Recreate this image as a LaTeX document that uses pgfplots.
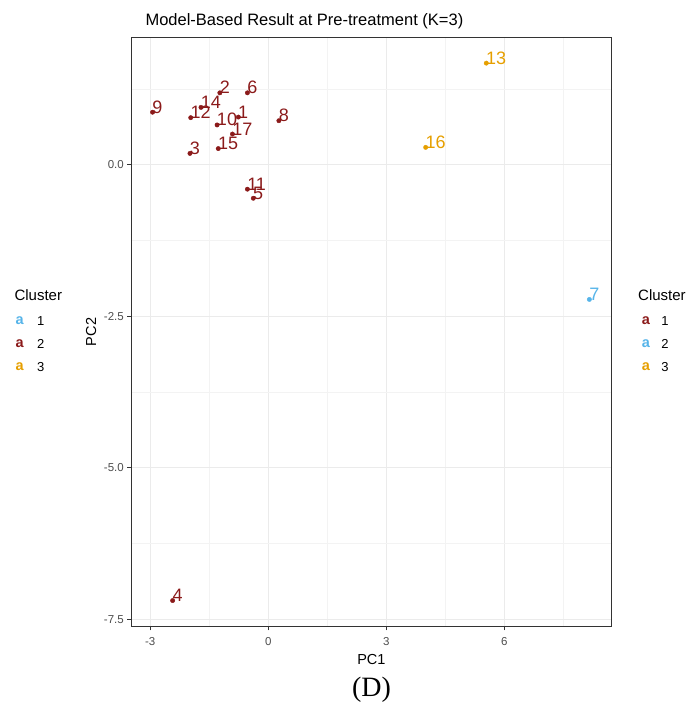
\documentclass[border=0pt]{standalone}
\usepackage{pgfplots}
\pgfplotsset{compat=1.18}
\usepackage{fontspec}
\setmainfont{Liberation Sans}
\newfontfamily\seriffont{Liberation Serif}
\definecolor{cRed}{HTML}{8B1A1A}
\definecolor{cBlue}{HTML}{56B4E9}
\definecolor{cOrange}{HTML}{E69F00}
\definecolor{grey20}{HTML}{333333}
\definecolor{grey30}{HTML}{4D4D4D}
\definecolor{grey92}{HTML}{EBEBEB}
\definecolor{grey95}{HTML}{F3F3F3}
\newcommand{\fs}[1]{\fontsize{#1bp}{#1bp}\selectfont}

\pgfplotstableread{
x y lab
-0.76 0.79 1
-1.23 1.19 2
-1.99 0.19 3
-2.43 -7.19 4
-0.38 -0.55 5
-0.53 1.19 6
0.27 0.73 8
-2.94 0.87 9
-1.30 0.66 10
-0.53 -0.40 11
-1.97 0.78 12
-1.71 0.95 14
-1.27 0.27 15
-0.91 0.51 17
}\redtab
\pgfplotstableread{
x y lab
8.16 -2.22 7
}\bluetab
\pgfplotstableread{
x y lab
5.54 1.68 13
4.00 0.29 16
}\orangetab

\begin{document}
\begin{tikzpicture}[x=1bp,y=1bp]
\useasboundingbox (0,0) rectangle (694,-710);
\begin{axis}[
  at={(131.7bp,-37.7bp)}, anchor=north west,
  scale only axis, width=479.3bp, height=588.3bp,
  xmin=-3.47, xmax=8.71, ymin=-7.61, ymax=2.10,
  axis line style={grey20, line width=0.9bp},
  xtick={-3,0,3,6}, xticklabels={-3,0,3,6},
  ytick={-7.5,-5,-2.5,0}, yticklabels={-7.5,-5.0,-2.5,0.0},
  minor xtick={-1.5,1.5,4.5,7.5}, minor ytick={-6.25,-3.75,-1.25,1.25},
  grid=both,
  major grid style={grey92, line width=1.1bp},
  minor grid style={grey95, line width=0.6bp},
  tick align=outside, tick pos=left,
  major tick length=4.4bp, minor tick length=0pt,
  major tick style={grey20, line width=0.9bp},
  ticklabel style={font=\fs{11.5}, text=grey30},
  xticklabel style={yshift=-3.5bp},
  point meta=explicit symbolic,
  nodes near coords,
  every node near coord/.append style={anchor=base west, inner sep=0pt, xshift=-0.3bp, yshift=-1bp, font=\fs{18}},
]
\addplot[only marks, mark=*, mark size=2.2bp, color=cRed, nodes near coords style={text=cRed}] table[x=x, y=y, meta=lab] {\redtab};
\addplot[only marks, mark=*, mark size=2.2bp, color=cBlue, nodes near coords style={text=cBlue}] table[x=x, y=y, meta=lab] {\bluetab};
\addplot[only marks, mark=*, mark size=2.2bp, color=cOrange, nodes near coords style={text=cOrange}] table[x=x, y=y, meta=lab] {\orangetab};
\end{axis}
% title and axis titles
\node[anchor=base west, font=\fs{16.5}] at (142,-25.3) {Model-Based Result at Pre-treatment (K=3)};
\node[anchor=base, font=\fs{14.5}] at (371.4,-664) {PC1};
\node[anchor=base, rotate=90, font=\fs{14.5}] at (96,-332) {PC2};
% left legend
\node[anchor=base west, font=\fs{15}] at (11,-300.5) {Cluster};
\node[font=\fs{14.5}\bfseries, text=cBlue] at (19.7,-320.7) {a};
\node[font=\fs{13}] at (40.7,-320.7) {1};
\node[font=\fs{14.5}\bfseries, text=cRed] at (19.7,-343.7) {a};
\node[font=\fs{13}] at (40.7,-343.7) {2};
\node[font=\fs{14.5}\bfseries, text=cOrange] at (19.7,-366.7) {a};
\node[font=\fs{13}] at (40.7,-366.7) {3};
% right legend
\node[anchor=base west, font=\fs{15}] at (634.7,-300.5) {Cluster};
\node[font=\fs{14.5}\bfseries, text=cRed] at (646,-320.7) {a};
\node[font=\fs{13}] at (665,-320.7) {1};
\node[font=\fs{14.5}\bfseries, text=cBlue] at (646,-343.7) {a};
\node[font=\fs{13}] at (665,-343.7) {2};
\node[font=\fs{14.5}\bfseries, text=cOrange] at (646,-366.7) {a};
\node[font=\fs{13}] at (665,-366.7) {3};
% caption
\node[font=\seriffont\fs{28}] at (371.5,-690) {(D)};
\end{tikzpicture}
\end{document}
